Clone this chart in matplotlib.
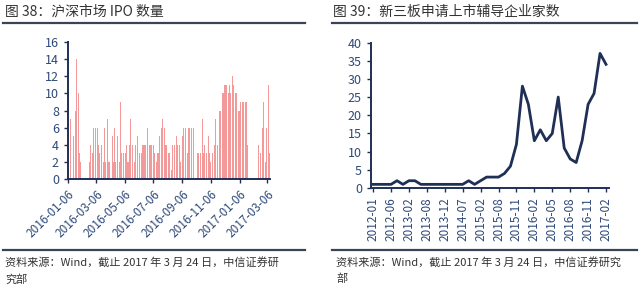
import numpy as np
import pandas as pd
import matplotlib
matplotlib.use('agg')
from matplotlib import pyplot as plt
from matplotlib.lines import Line2D
import matplotlib.dates as mdates

plt.rcParams['font.family'] = ['Noto Sans CJK SC', 'DejaVu Sans']

# left chart: daily IPO counts
ipo_dates = ['2016-01-11', '2016-01-17', '2016-01-21', '2016-01-25', '2016-01-29', '2016-01-31', '2016-02-02',
             '2016-02-21', '2016-02-24', '2016-02-27', '2016-03-01', '2016-03-04', '2016-03-08', '2016-03-11',
             '2016-03-14', '2016-03-17', '2016-03-21', '2016-03-24', '2016-03-27', '2016-03-30', '2016-04-02',
             '2016-04-04', '2016-04-09', '2016-04-12', '2016-04-14', '2016-04-17', '2016-04-21', '2016-04-24',
             '2016-04-27', '2016-04-30', '2016-05-04', '2016-05-07', '2016-05-10', '2016-05-13', '2016-05-17',
             '2016-05-19', '2016-05-23', '2016-05-26', '2016-05-30', '2016-06-03', '2016-06-07', '2016-06-10',
             '2016-06-14', '2016-06-17', '2016-06-20', '2016-06-24', '2016-06-27', '2016-06-29', '2016-07-03',
             '2016-07-06', '2016-07-09', '2016-07-12', '2016-07-16', '2016-07-19', '2016-07-23', '2016-07-26',
             '2016-07-29', '2016-08-01', '2016-08-04', '2016-08-07', '2016-08-10', '2016-08-14', '2016-08-17',
             '2016-08-21', '2016-08-24', '2016-08-27', '2016-08-31', '2016-09-03', '2016-09-06', '2016-09-09',
             '2016-09-13', '2016-09-16', '2016-09-19', '2016-09-22', '2016-09-26', '2016-09-29', '2016-10-08',
             '2016-10-11', '2016-10-15', '2016-10-18', '2016-10-21', '2016-10-24', '2016-10-27', '2016-10-31',
             '2016-11-03', '2016-11-06', '2016-11-10', '2016-11-13', '2016-11-16', '2016-11-20', '2016-11-24',
             '2016-11-27', '2016-11-30', '2016-12-03', '2016-12-06', '2016-12-09', '2016-12-13', '2016-12-15',
             '2016-12-18', '2016-12-22', '2016-12-25', '2016-12-28', '2016-12-30', '2017-01-03', '2017-01-06',
             '2017-01-09', '2017-01-12', '2017-01-15', '2017-01-18', '2017-01-21', '2017-01-24', '2017-02-15',
             '2017-02-19', '2017-02-23', '2017-02-27', '2017-03-02', '2017-03-04', '2017-03-08', '2017-03-10']
ipo_counts = [7, 5, 8, 14, 10, 3, 2,
              2, 4, 3, 6, 6, 6, 4,
              3, 4, 2, 6, 2, 7, 2,
              2, 5, 2, 6, 2, 5, 2,
              9, 3, 3, 3, 4, 2, 4,
              7, 4, 2, 4, 5, 3, 3,
              4, 4, 4, 6, 4, 4, 4,
              4, 3, 2, 3, 5, 6, 7,
              6, 4, 4, 3, 3, 1, 4,
              4, 5, 4, 4, 2, 5, 6,
              6, 3, 6, 6, 6, 6, 3,
              3, 3, 7, 3, 4, 3, 5,
              3, 2, 3, 4, 7, 4, 8,
              8, 10, 10, 11, 11, 10, 11,
              10, 12, 11, 10, 10, 8, 8,
              9, 9, 9, 9, 9, 4, 4,
              3, 6, 9, 2, 6, 11, 3]
ipo_ticks = ['2016-01-06', '2016-03-06', '2016-05-06', '2016-07-06', '2016-09-06',
             '2016-11-06', '2017-01-06', '2017-03-06']

# right chart: NEEQ firms applying for listing tutoring
months = ['2012-01', '2012-02', '2012-04', '2012-06', '2012-08', '2012-10', '2013-02', '2013-04',
          '2013-06', '2013-08', '2013-10', '2013-11', '2013-12', '2014-02', '2014-05', '2014-07',
          '2014-09', '2014-12', '2015-02', '2015-04', '2015-06', '2015-08', '2015-09', '2015-10',
          '2015-11', '2015-12', '2016-01', '2016-02', '2016-03', '2016-04', '2016-05', '2016-06',
          '2016-07', '2016-08', '2016-09', '2016-10', '2016-11', '2016-12', '2017-01', '2017-02']
firms = [1, 1, 1, 1, 2, 1, 2, 2, 1, 1, 1, 1, 1, 1, 1, 1, 2, 1, 2, 3,
         3, 3, 4, 6, 12, 28, 23, 13, 16, 13, 15, 25, 11, 8, 7, 13, 23, 26, 37, 34]

navy = '#1f2f55'
tick_col = '#2f4a78'
text_col = '#333333'

fig = plt.figure(figsize=(6.4, 2.92), dpi=100)

# titles, rules and sources
fig.text(5 / 640, 1 - 12 / 292, '图 38：沪深市场 IPO 数量', fontsize=10, color=text_col, va='center')
fig.text(333 / 640, 1 - 12 / 292, '图 39：新三板申请上市辅导企业家数', fontsize=10, color=text_col, va='center')
for x0, x1 in [(3, 305), (332, 637)]:
    for y in (23, 250):
        fig.add_artist(Line2D([x0 / 640, x1 / 640], [1 - y / 292, 1 - y / 292],
                              color='#3a4458', lw=1.6, transform=fig.transFigure))
fig.text(5 / 640, 1 - 263 / 292, '资料来源：Wind，截止 2017 年 3 月 24 日，中信证券研', fontsize=8,
         color=text_col, va='center')
fig.text(5 / 640, 1 - 279 / 292, '究部', fontsize=8, color=text_col, va='center')
fig.text(336 / 640, 1 - 263 / 292, '资料来源：Wind，截止 2017 年 3 月 24 日，中信证券研究', fontsize=8,
         color=text_col, va='center')
fig.text(336 / 640, 1 - 279 / 292, '部', fontsize=8, color=text_col, va='center')

# left chart
ax1 = fig.add_axes([68 / 640, 1 - 179 / 292, 202 / 640, 137 / 292])
ax1.bar(pd.to_datetime(ipo_dates), ipo_counts, width=2.2, color='#ee6e6e', alpha=0.7, linewidth=0)
ax1.set_ylim(0, 16)
ax1.set_yticks(range(0, 17, 2))
ax1.set_xlim(pd.Timestamp('2016-01-06'), pd.Timestamp('2017-03-12'))
ax1.set_xticks(pd.to_datetime(ipo_ticks))
ax1.xaxis.set_major_formatter(mdates.DateFormatter('%Y-%m-%d'))
plt.setp(ax1.get_xticklabels(), rotation=45, ha='right', rotation_mode='anchor')

# right chart
ax2 = fig.add_axes([371 / 640, 1 - 188 / 292, 238 / 640, 145.5 / 292])
x = np.arange(len(months))
ax2.plot(x, firms, color=navy, lw=2)
ax2.set_ylim(0, 40)
ax2.set_yticks(range(0, 41, 5))
ax2.set_xlim(-0.35, 39.5)
ax2.set_xticks(x[::3])
ax2.set_xticklabels(months[::3], rotation=90)

for ax in (ax1, ax2):
    for s in ('top', 'right'):
        ax.spines[s].set_visible(False)
    for s in ('left', 'bottom'):
        ax.spines[s].set_color(navy)
        ax.spines[s].set_linewidth(1.4)
    ax.tick_params(colors=navy, labelcolor=tick_col, labelsize=9, length=3, width=1)
    ax.tick_params(axis='x', labelsize=8.5)

plt.savefig('out.png')
